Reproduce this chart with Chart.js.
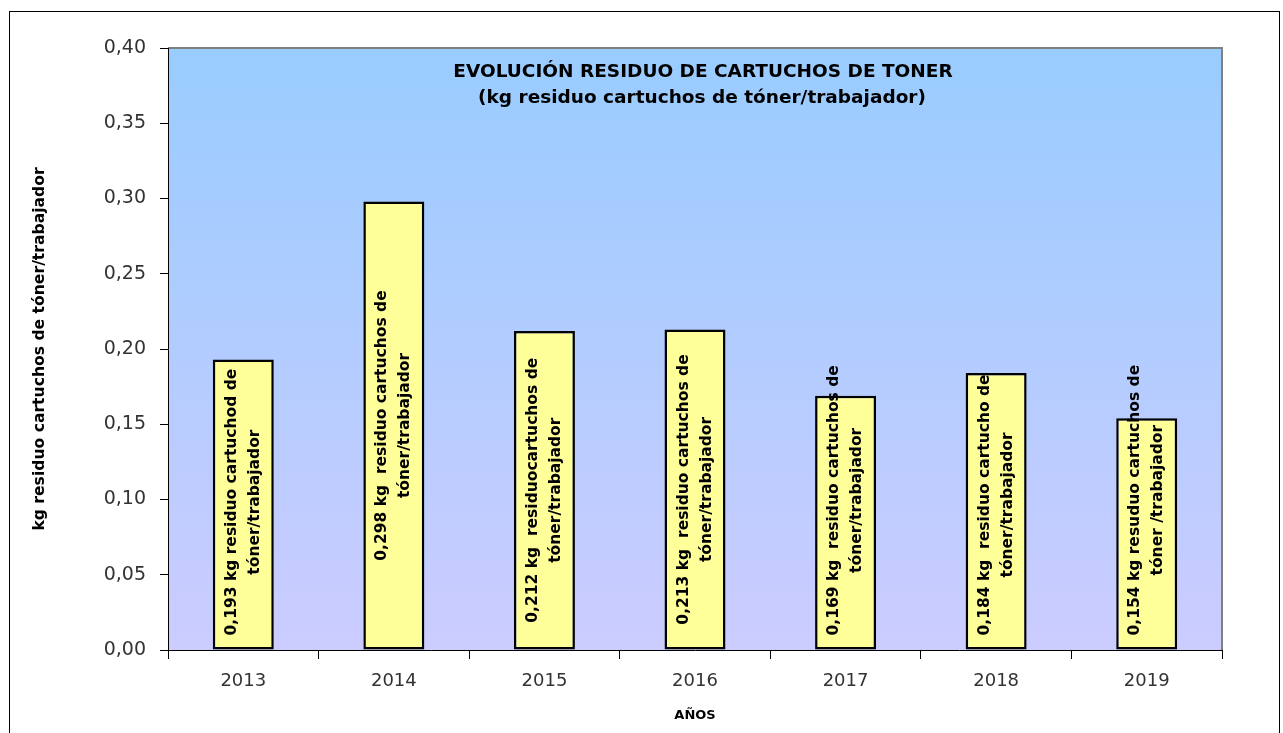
<!DOCTYPE html>
<html>
<head>
<meta charset="utf-8">
<script src="https://cdn.jsdelivr.net/npm/chart.js@4/dist/chart.umd.min.js"></script>
<style>
html,body{margin:0;padding:0;background:#fff;}
#wrap{width:1283px;height:733px;position:relative;}
</style>
</head>
<body>
<div id="wrap"><canvas id="c" width="1283" height="733"></canvas></div>
<script>
const years = ["2013","2014","2015","2016","2017","2018","2019"];
const values = [0.193, 0.298, 0.212, 0.213, 0.169, 0.184, 0.154];
const labelLine1 = [
  "0,193 kg residuo cartuchod de",
  "0,298 kg  residuo cartuchos de",
  "0,212 kg  residuocartuchos de",
  "0,213 kg  residuo cartuchos de",
  "0,169 kg  residuo cartuchos de",
  "0,184 kg  residuo cartucho de",
  "0,154 kg resuduo cartuchos de"
];
const labelLine2 = [
  "tóner/trabajador","tóner/trabajador","tóner/trabajador","tóner/trabajador",
  "tóner/trabajador","tóner/trabajador","tóner /trabajador"
];
const titleLines = ["EVOLUCIÓN RESIDUO DE CARTUCHOS DE TONER", "(kg residuo cartuchos de tóner/trabajador)"];
const yTitle = "kg residuo cartuchos de tóner/trabajador";
const xTitle = "AÑOS";

const FONT = "'DejaVu Sans', sans-serif";

const bgPlugin = {
  id: 'bg',
  beforeDraw(chart) {
    const {ctx, chartArea: a} = chart;
    ctx.save();
    ctx.fillStyle = '#fff';
    ctx.fillRect(0, 0, chart.width, chart.height);
    const g = ctx.createLinearGradient(0, a.top, 0, a.bottom);
    g.addColorStop(0, '#99CCFF');
    g.addColorStop(1, '#CCCCFF');
    ctx.fillStyle = g;
    ctx.fillRect(a.left, a.top, a.right - a.left, a.bottom - a.top);
    ctx.strokeStyle = '#808080';
    ctx.lineWidth = 2;
    ctx.beginPath();
    ctx.moveTo(a.left, a.top);
    ctx.lineTo(a.right, a.top);
    ctx.lineTo(a.right, a.bottom);
    ctx.stroke();
    ctx.restore();
  },
  afterDraw(chart) {
    const {ctx} = chart;
    ctx.save();
    ctx.strokeStyle = '#000';
    ctx.lineWidth = 1;
    ctx.strokeRect(9.5, 11.5, 1270, 740);
    ctx.fillStyle = '#000';
    ctx.textAlign = 'center';
    ctx.textBaseline = 'middle';
    ctx.font = "bold 18.5px " + FONT;
    ctx.fillText(titleLines[0], 703, 72);
    ctx.fillText(titleLines[1], 702, 98);
    const meta = chart.getDatasetMeta(0);
    ctx.font = "bold 15.5px " + FONT;
    meta.data.forEach((bar, i) => {
      const base = bar.base;
      const top = bar.y;
      const w1 = ctx.measureText(labelLine1[i]).width;
      const cy = Math.min((top + base) / 2, base - 14 - w1 / 2);
      ctx.save();
      ctx.translate(bar.x, cy);
      ctx.rotate(-Math.PI / 2);
      ctx.fillText(labelLine1[i], 0, -11.5);
      ctx.fillText(labelLine2[i], 0, 11.5);
      ctx.restore();
    });
    ctx.restore();
  }
};

new Chart(document.getElementById('c'), {
  type: 'bar',
  data: {
    labels: years,
    datasets: [{
      data: values,
      backgroundColor: '#FFFF99',
      borderColor: '#000',
      borderWidth: 2.5,
      borderSkipped: false,
      barPercentage: 0.405,
      categoryPercentage: 1.0
    }]
  },
  options: {
    responsive: false,
    animation: false,
    events: [],
    layout: { padding: { left: 31, top: 48, right: 61, bottom: 10 } },
    plugins: { legend: { display: false }, tooltip: { enabled: false } },
    scales: {
      x: {
        grid: { drawOnChartArea: false, offset: true, tickLength: 9, color: '#000' },
        border: { color: '#000', width: 1 },
        ticks: { color: '#333', font: { family: FONT, size: 18 }, padding: 12 },
        title: { display: true, text: xTitle, color: '#000', font: { family: FONT, size: 13, weight: 'bold' }, padding: 0 },
        afterFit(s) { s.height = 73; }
      },
      y: {
        min: 0, max: 0.4,
        ticks: {
          stepSize: 0.05, color: '#333', font: { family: FONT, size: 19 }, padding: 14,
          callback: v => v.toFixed(2).replace('.', ',')
        },
        grid: { drawOnChartArea: false, tickLength: 8, color: '#000' },
        border: { color: '#000', width: 1 },
        title: { display: true, text: yTitle, color: '#000', font: { family: FONT, size: 15.6, weight: 'bold' }, padding: 0 },
        afterFit(s) { s.width = 137; }
      }
    }
  },
  plugins: [bgPlugin]
});
</script>
</body>
</html>
